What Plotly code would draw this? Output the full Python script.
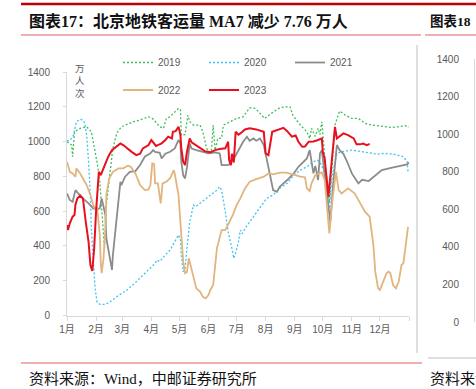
import plotly.graph_objects as go

# ---------------- data (day of year, value in 万人次) ----------------
month_days = [0, 31, 59, 90, 120, 151, 181, 212, 243, 273, 304, 334, 365]
month_labels = ["1月", "2月", "3月", "4月", "5月", "6月", "7月", "8月", "9月", "10月", "11月", "12月", ""]
y_ticks = [0, 200, 400, 600, 800, 1000, 1200, 1400]

s2019 = [(0,999),(5,980),(6,913),(8,1056),(14,1076),(21,1085),(26,1056),(32,884),(35,769),(37,578),(39,463),(40,388),(42,635),(46,826),(49,961),(53,1047),(58,1085),(71,1114),(78,1124),(87,1143),(92,1129),(99,1085),(103,1076),(106,1133),(110,1143),(119,1191),(121,1185),(122,1037),(126,1040),(129,1152),(131,1114),(135,1095),(142,1095),(145,1056),(149,961),(151,941),(154,941),(156,1095),(158,951),(161,1018),(165,1020),(167,1095),(174,1114),(181,1133),(188,1143),(195,1194),(201,1191),(206,1162),(211,1133),(218,1162),(227,1194),(233,1200),(238,1200),(241,1152),(249,1095),(256,1056),(259,1018),(261,1076),(265,1030),(268,1076),(270,1040),(272,1114),(273,1037),(276,850),(280,650),(283,900),(286,1095),(290,1162),(291,1175),(297,1152),(304,1133),(311,1133),(318,1105),(325,1095),(334,1090),(347,1081),(353,1085),(361,1091),(365,1085)]

s2020 = [(0,1005),(3,1005),(7,1037),(10,1114),(14,1128),(17,1124),(19,1105),(21,1037),(23,884),(25,693),(26,501),(28,309),(30,156),(32,79),(35,64),(41,64),(46,79),(53,108),(64,147),(74,194),(85,252),(89,271),(94,300),(96,319),(99,310),(105,348),(110,376),(115,424),(119,463),(121,440),(122,348),(124,252),(126,270),(128,386),(131,539),(135,635),(137,625),(142,645),(149,673),(154,693),(160,721),(163,740),(165,720),(169,597),(172,482),(176,386),(178,329),(180,360),(183,424),(185,491),(187,470),(190,501),(195,539),(206,616),(213,673),(220,693),(227,731),(235,760),(242,807),(249,836),(256,855),(263,884),(267,894),(270,880),(273,850),(275,826),(280,616),(283,800),(288,932),(293,941),(304,951),(311,945),(322,932),(331,928),(339,932),(350,926),(359,913),(363,884),(364,826)]

s2021 = [(0,702),(3,664),(6,654),(9,721),(12,702),(17,673),(23,645),(28,616),(32,610),(35,616),(37,673),(38,650),(41,578),(42,444),(46,309),(48,262),(49,348),(51,463),(53,539),(55,693),(57,769),(58,750),(62,798),(67,826),(73,830),(78,865),(83,913),(89,932),(92,951),(94,941),(99,935),(101,903),(105,930),(110,941),(115,961),(119,1009),(121,990),(122,884),(124,807),(126,788),(128,850),(131,989),(133,960),(138,951),(146,941),(151,932),(158,938),(163,932),(165,865),(171,865),(174,870),(176,894),(179,910),(183,951),(188,999),(192,1028),(195,1005),(199,1018),(202,1005),(206,1018),(210,980),(213,903),(217,788),(220,721),(224,711),(227,740),(235,779),(242,817),(247,855),(252,884),(256,903),(259,951),(261,870),(263,817),(265,860),(267,800),(268,779),(270,932),(272,951),(275,807),(281,539),(284,750),(288,980),(291,951),(295,930),(299,884),(304,817),(311,760),(315,780),(322,773),(329,807),(336,836),(347,850),(355,861),(363,869),(365,880)]

s2022 = [(0,884),(3,826),(6,817),(9,798),(10,846),(14,817),(17,788),(21,750),(25,693),(28,635),(30,616),(32,625),(33,578),(35,463),(36,309),(37,243),(39,329),(41,501),(42,693),(45,788),(49,826),(55,846),(60,846),(65,861),(68,855),(73,817),(78,750),(83,721),(87,725),(89,750),(91,875),(93,870),(94,760),(97,760),(100,645),(102,760),(106,769),(110,790),(114,836),(115,815),(119,693),(122,463),(124,309),(126,243),(128,250),(130,329),(133,262),(135,230),(138,156),(142,137),(145,108),(148,99),(151,118),(153,147),(156,175),(160,386),(162,424),(165,491),(169,491),(174,549),(177,578),(181,635),(185,673),(190,731),(195,769),(202,784),(210,798),(215,817),(220,811),(227,821),(234,821),(241,811),(249,798),(254,795),(256,731),(259,716),(261,760),(265,807),(272,823),(275,780),(280,472),(283,650),(287,826),(290,721),(293,702),(300,731),(307,702),(313,645),(318,597),(323,568),(327,405),(329,252),(332,156),(334,147),(337,190),(341,243),(343,252),(345,245),(348,175),(351,156),(354,194),(357,290),(359,300),(361,386),(364,510)]

s2023 = [(0,520),(1,491),(3,530),(6,568),(8,578),(9,635),(11,673),(14,689),(17,673),(18,616),(20,539),(23,424),(25,290),(27,256),(29,386),(31,597),(33,750),(34,826),(36,807),(38,836),(41,875),(44,913),(48,951),(51,964),(55,980),(57,989),(60,980),(64,961),(69,941),(74,922),(78,930),(81,961),(87,980),(90,1009),(92,995),(95,975),(97,980),(101,990),(105,1009),(108,1028),(112,1018),(113,1056),(116,1060),(119,1085),(121,1040),(122,961),(124,884),(126,865),(128,940),(131,1018),(133,995),(137,980),(142,961),(147,945),(153,938),(158,951),(163,957),(169,961),(172,999),(173,894),(175,865),(176,930),(178,880),(180,1056),(183,1040),(185,1047),(190,1070),(195,1076),(202,1070),(210,1056),(212,932),(215,922),(219,1056),(223,1065),(231,1079),(235,1060),(240,1028),(244,1035),(247,999),(251,970),(254,972),(258,999),(263,1000),(268,1009),(272,1018),(273,941),(275,903),(279,683),(283,900),(286,1085),(288,1018),(291,1030),(295,1047),(300,1037),(306,1018),(309,984),(313,984),(316,989),(320,980),(323,987)]

series = [
    ("2019", s2019, "#3DBE5C", 1.3, "2px,2px", "legend"),
    ("2020", s2020, "#3FC3F0", 1.3, "2px,2px", "legend"),
    ("2021", s2021, "#8C8C8C", 1.8, "solid", "legend"),
    ("2022", s2022, "#E2B47E", 1.8, "solid", "legend2"),
    ("2023", s2023, "#E8101E", 2.0, "solid", "legend2"),
]

W, H = 476, 389
def px(x):
    return x / W
def py(y):
    return 1 - y / H

GRAY = "#595959"
AXIS = "#D9D9D9"
SANS = "Liberation Sans, Noto Sans CJK SC, sans-serif"
SERIF = "Liberation Serif, Noto Sans CJK SC, serif"

fig = go.Figure()
for name, pts, color, width, dash, lg in series:
    xs = [p[0] for p in pts]
    ys = [p[1] for p in pts]
    fig.add_trace(go.Scatter(x=xs, y=ys, mode="lines", name=name,
                             line=dict(color=color, width=width, dash=dash),
                             legend=lg, xaxis="x", yaxis="y"))
# neighbouring chart's (cut off) axes
fig.add_trace(go.Scatter(x=[], y=[], xaxis="x2", yaxis="y2", showlegend=False))

legend_common = dict(orientation="h", xanchor="left", yanchor="middle",
                     entrywidth=41, entrywidthmode="pixels",
                     font=dict(family=SANS, size=10, color=GRAY),
                     bgcolor="rgba(0,0,0,0)", itemwidth=30, tracegroupgap=0)

axis_common = dict(showgrid=False, zeroline=False, automargin=False, tickangle=0,
                   tickfont=dict(family=SANS, size=10, color=GRAY))

fig.update_layout(
    width=W, height=H,
    margin=dict(l=0, r=0, t=0, b=0, autoexpand=False),
    paper_bgcolor="white", plot_bgcolor="white",
    font=dict(family=SANS, size=10, color=GRAY),
    legend=dict(x=px(118), y=py(62.5), **legend_common),
    legend2=dict(x=px(118), y=py(90), **legend_common),
    xaxis=dict(domain=[px(67), px(409)], range=[0, 365], tickmode="array",
               tickvals=month_days, ticktext=month_labels, showline=True,
               linecolor=AXIS, linewidth=1, ticks="outside", ticklen=4,
               tickcolor=AXIS, anchor="y", **axis_common),
    yaxis=dict(domain=[py(315.5), py(72)], range=[0, 1400], tickmode="array",
               tickvals=y_ticks, showline=True, linecolor=AXIS, linewidth=1,
               ticks="outside", ticklen=3, tickcolor=AXIS,
               ticklabelstandoff=11, anchor="x", **axis_common),
    xaxis2=dict(domain=[px(475), 1], range=[0, 365], tickmode="array",
                tickvals=[0], ticktext=["1月"], showline=False, ticks="",
                anchor="y2", **axis_common),
    yaxis2=dict(domain=[py(322), py(59)], range=[0, 1400], tickmode="array",
                tickvals=y_ticks, showline=True, linecolor=AXIS, ticks="",
                anchor="x2", ticklabelstandoff=13, **axis_common),
    showlegend=True,
)

def hline(x0, x1, y, color, width):
    return dict(type="line", xref="paper", yref="paper", x0=px(x0), x1=px(x1),
                y0=py(y), y1=py(y), line=dict(color=color, width=width))

shapes = [
    hline(21, 476, 4, "#C00000", 2.5),
    hline(21, 421, 35, "#E06060", 1),
    hline(425, 476, 35, "#E06060", 1),
    dict(type="line", xref="paper", yref="paper", x0=px(417), x1=px(417), y0=py(45), y1=py(353),
         line=dict(color="#BFBFBF", width=1)),
    hline(21, 422, 363, "#E06060", 1),
    hline(428, 476, 358, "#BFBFBF", 1),
]
fig.update_layout(shapes=shapes)

def note(text, x, y, size, family, color, xanchor="left"):
    return dict(text=text, x=px(x), y=py(y), xref="paper", yref="paper",
                xanchor=xanchor, yanchor="middle", showarrow=False,
                font=dict(family=family, size=size, color=color))

annotations = [
    note("<b>图表17：北京地铁客运量 MA7 减少 7.76 万人</b>", 27, 21, 16, SERIF, "#111111"),
    note("<b>图表18</b>", 428, 21, 13.5, SERIF, "#111111"),
    note("资料来源：Wind，中邮证券研究所", 27, 379, 15, SERIF, "#111111"),
    note("资料来源：Wind", 428, 379, 15, SERIF, "#111111"),
    note("万<br>人<br>次", 80, 81, 9.5, SANS, GRAY, xanchor="center"),
]
fig.update_layout(annotations=annotations)

fig.write_html("out.html",
               config={"displayModeBar": False},
               post_script="document.body.style.margin='0';document.body.style.overflow='hidden';")
